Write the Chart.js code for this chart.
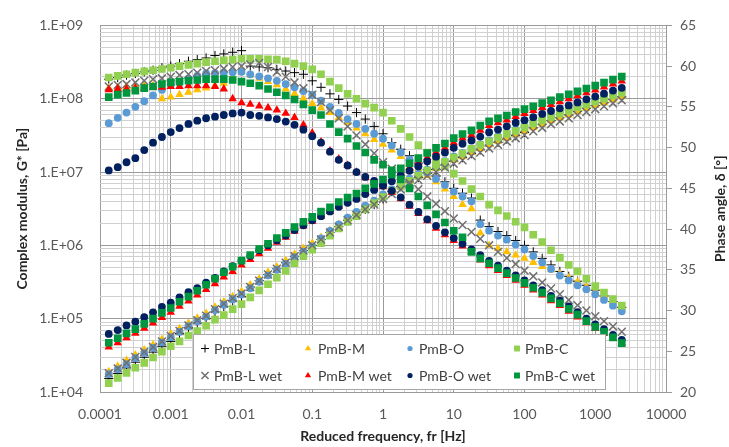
<!DOCTYPE html>
<html>
<head>
<meta charset="utf-8">
<script src="https://cdn.jsdelivr.net/npm/chart.js@4.4.1/dist/chart.umd.min.js"></script>
<style>
html,body{margin:0;padding:0;background:#ffffff;}
canvas{display:block;}
</style>
</head>
<body>
<canvas id="chart" width="729" height="447"></canvas>
<script>
// ---------------- DATA ----------------
const frequency = [1.33e-4,1.78e-4,2.37e-4,3.16e-4,4.22e-4,5.62e-4,7.5e-4,1e-3,
  1.33e-3,1.78e-3,2.37e-3,3.16e-3,4.22e-3,5.62e-3,7.5e-3,0.01,
  0.0133,0.0178,0.0237,0.0316,0.0422,0.0562,0.075,0.1,
  0.133,0.178,0.237,0.316,0.422,0.562,0.75,1,
  1.33,1.78,2.37,3.16,4.22,5.62,7.5,10,
  13.3,17.8,23.7,31.6,42.2,56.2,75,100,
  133,178,237,316,422,562,750,1000,
  1330,1780,2370];

const seriesNames = ['PmB-L','PmB-M','PmB-O','PmB-C','PmB-L wet','PmB-M wet','PmB-O wet','PmB-C wet'];

// Complex modulus G* [Pa]
const modulusL = [1.53e4,1.79e4,2.13e4,2.55e4,2.98e4,3.5e4,4.2e4,4.9e4,6.3e4,7.5e4,8.7e4,1.01e5,1.24e5,1.47e5,1.75e5,2.0e5,
  2.7e5,3.3e5,4.0e5,4.8e5,5.8e5,7.1e5,8.5e5,1.0e6,1.2e6,1.5e6,1.8e6,2.2e6,2.6e6,3.1e6,3.6e6,4.3e6,
  5.4e6,6.3e6,7.3e6,8.4e6,9.6e6,1.08e7,1.24e7,1.4e7,1.57e7,1.78e7,2.0e7,2.27e7,2.54e7,2.8e7,3.13e7,3.46e7,
  4.0e7,4.5e7,5.0e7,5.5e7,6.0e7,6.7e7,7.4e7,8.1e7,8.8e7,9.7e7,1.06e8];
const modulusM = [1.9e4,2.25e4,2.7e4,3.2e4,3.75e4,4.4e4,5.2e4,6.2e4,7.3e4,8.7e4,1.02e5,1.18e5,1.44e5,1.7e5,2.0e5,2.35e5,
  2.9e5,3.5e5,4.3e5,5.1e5,6.2e5,7.6e5,9.1e5,1.07e6,1.28e6,1.6e6,1.93e6,2.35e6,2.8e6,3.3e6,3.85e6,4.6e6,
  5.6e6,6.5e6,7.6e6,8.7e6,1.0e7,1.12e7,1.29e7,1.46e7,1.62e7,1.85e7,2.07e7,2.35e7,2.63e7,2.9e7,3.25e7,3.6e7,
  4.0e7,4.5e7,5.0e7,5.5e7,6.0e7,6.7e7,7.4e7,8.1e7,8.8e7,9.7e7,1.06e8];
const modulusO = [1.75e4,2.04e4,2.4e4,2.9e4,3.4e4,4.0e4,4.75e4,5.6e4,6.6e4,7.9e4,9.2e4,1.07e5,1.31e5,1.55e5,1.84e5,2.13e5,
  2.6e5,3.2e5,3.9e5,4.65e5,5.6e5,6.9e5,8.2e5,9.7e5,1.24e6,1.58e6,1.93e6,2.38e6,2.86e6,3.47e6,4.07e6,4.95e6,
  5.85e6,6.84e6,8.1e6,9.4e6,1.08e7,1.22e7,1.41e7,1.63e7,1.83e7,2.1e7,2.39e7,2.73e7,3.08e7,3.43e7,3.83e7,4.22e7,
  4.75e7,5.28e7,5.94e7,6.47e7,7.13e7,7.92e7,8.71e7,9.5e7,1.04e8,1.15e8,1.25e8];
const modulusC = [1.32e4,1.55e4,1.82e4,2.14e4,2.5e4,2.95e4,3.55e4,4.2e4,4.9e4,5.9e4,6.8e4,8.0e4,9.7e4,1.12e5,1.35e5,1.58e5,
  1.95e5,2.43e5,2.95e5,3.63e5,4.47e5,5.7e5,7.1e5,8.7e5,1.07e6,1.36e6,1.7e6,2.09e6,2.5e6,3.1e6,3.76e6,4.57e6,
  5.5e6,6.4e6,7.6e6,8.9e6,1.05e7,1.19e7,1.38e7,1.58e7,1.78e7,2.07e7,2.34e7,2.63e7,2.95e7,3.31e7,3.63e7,4.07e7,
  4.57e7,5.0e7,5.6e7,6.2e7,6.8e7,7.6e7,8.3e7,9.1e7,1.0e8,1.1e8,1.2e8];
const modulusLwet = [1.8e4,2.1e4,2.5e4,3.0e4,3.5e4,4.1e4,4.9e4,5.8e4,6.8e4,8.1e4,9.5e4,1.1e5,1.35e5,1.6e5,1.9e5,2.2e5,
  2.7e5,3.3e5,4.0e5,4.8e5,5.8e5,7.1e5,8.5e5,1.0e6,1.2e6,1.5e6,1.8e6,2.2e6,2.6e6,3.1e6,3.6e6,4.3e6,
  5.0e6,5.8e6,6.8e6,7.8e6,8.9e6,1.0e7,1.15e7,1.3e7,1.45e7,1.65e7,1.85e7,2.1e7,2.35e7,2.6e7,2.9e7,3.2e7,
  3.6e7,4.0e7,4.5e7,4.9e7,5.4e7,6.0e7,6.6e7,7.2e7,7.9e7,8.7e7,9.5e7];
const modulusMwet = [4.1e4,4.7e4,5.5e4,6.3e4,7.4e4,8.7e4,1.04e5,1.22e5,1.48e5,1.74e5,2.1e5,2.5e5,3.0e5,3.7e5,4.4e5,5.4e5,
  6.4e5,7.7e5,9.1e5,1.1e6,1.29e6,1.55e6,1.83e6,2.13e6,2.5e6,2.9e6,3.4e6,3.9e6,4.4e6,5.2e6,6.0e6,6.9e6,
  8.1e6,9.7e6,1.15e7,1.35e7,1.58e7,1.86e7,2.13e7,2.5e7,2.9e7,3.2e7,3.7e7,4.3e7,4.7e7,5.1e7,5.7e7,6.3e7,
  6.9e7,7.6e7,8.3e7,9.1e7,1.0e8,1.1e8,1.2e8,1.31e8,1.44e8,1.58e8,1.74e8];
const modulusOwet = [6.2e4,7.0e4,8.1e4,9.1e4,1.05e5,1.22e5,1.45e5,1.66e5,1.95e5,2.3e5,2.6e5,3.1e5,3.6e5,4.4e5,5.2e5,6.2e5,
  7.2e5,8.6e5,1.0e6,1.17e6,1.36e6,1.62e6,1.88e6,2.2e6,2.5e6,2.9e6,3.35e6,3.8e6,4.3e6,5.0e6,5.7e6,6.5e6,
  7.5e6,8.9e6,1.04e7,1.2e7,1.4e7,1.62e7,1.84e7,2.14e7,2.43e7,2.7e7,3.05e7,3.5e7,3.8e7,4.2e7,4.7e7,5.1e7,
  5.6e7,6.2e7,6.8e7,7.4e7,8.1e7,8.9e7,9.8e7,1.07e8,1.17e8,1.29e8,1.41e8];
const modulusCwet = [4.7e4,5.4e4,6.3e4,7.2e4,8.5e4,1.0e5,1.2e5,1.4e5,1.7e5,2.0e5,2.4e5,2.9e5,3.5e5,4.3e5,5.1e5,6.2e5,
  7.4e5,8.9e5,1.05e6,1.26e6,1.48e6,1.78e6,2.1e6,2.45e6,2.9e6,3.3e6,3.9e6,4.5e6,5.1e6,6.0e6,6.9e6,7.9e6,
  9.3e6,1.12e7,1.32e7,1.55e7,1.82e7,2.14e7,2.45e7,2.9e7,3.3e7,3.7e7,4.3e7,4.9e7,5.4e7,5.9e7,6.6e7,7.2e7,
  7.9e7,8.7e7,9.5e7,1.05e8,1.15e8,1.26e8,1.38e8,1.51e8,1.66e8,1.82e8,2.0e8];

// Phase angle δ [°]
const phaseL = [58.4,58.6,58.9,59.1,59.3,59.5,59.8,60.0,60.3,60.6,60.8,61.0,61.3,61.5,61.7,61.9,
  60.0,59.9,59.8,59.6,59.4,59.2,59.0,58.2,57.4,56.6,55.9,55.1,54.3,53.5,52.6,51.7,
  50.6,49.8,49.0,48.1,47.3,46.5,45.8,45.0,44.4,43.8,41.1,40.3,39.7,39.2,38.6,38.0,
  37.2,36.4,35.6,34.8,34.2,33.6,33.1,32.5,31.8,31.1,30.4];
const phaseM = [57.3,57.4,57.5,57.5,57.6,57.6,56.0,56.2,56.5,56.8,57.1,57.3,57.6,57.9,58.6,59.3,
  58.9,58.5,58.1,57.7,57.2,56.6,56.0,55.4,54.9,54.3,53.7,53.1,52.4,51.7,51.0,50.4,
  49.7,48.9,48.0,47.4,46.6,45.8,44.9,44.0,43.0,42.5,39.5,38.0,37.6,37.2,36.8,36.4,
  35.9,35.4,35.0,34.5,34.0,33.5,32.9,32.4,31.8,31.1,30.4];
const phaseO = [53.0,53.65,54.3,55.0,55.7,56.4,57.1,57.8,58.1,58.45,58.8,59.1,59.15,59.2,59.25,59.3,
  59.0,58.75,58.5,58.2,57.8,57.4,56.95,56.5,55.75,55.0,54.25,53.5,52.9,52.3,51.7,51.1,
  50.25,49.4,48.55,47.7,46.9,46.15,45.4,44.6,44.0,43.4,40.6,39.8,39.2,38.7,38.1,37.5,
  36.7,35.9,35.1,34.3,33.7,33.1,32.6,32.0,31.3,30.6,29.9];
const phaseC = [58.6,58.8,59.0,59.2,59.35,59.5,59.65,59.8,60.0,60.15,60.3,60.5,60.6,60.7,60.8,60.9,
  60.9,60.9,60.85,60.8,60.6,60.3,60.0,59.6,59.0,58.1,57.3,56.6,56.0,55.4,54.9,54.3,
  53.3,52.3,51.3,50.3,49.4,48.5,47.7,46.8,45.9,44.9,44.0,43.0,42.3,41.6,40.9,40.2,
  39.3,38.4,37.4,36.5,35.6,34.8,33.9,33.0,32.2,31.4,30.6];
const phaseLwet = [57.5,57.7,57.8,58.0,58.2,58.4,58.5,58.7,58.9,59.0,59.2,59.4,59.5,59.7,59.9,60.0,
  60.2,60.4,59.9,59.3,58.7,58.0,57.3,56.5,55.6,54.6,53.6,52.6,51.5,50.4,49.3,48.2,
  47.4,46.55,45.7,44.9,44.0,43.1,42.2,41.3,40.5,39.65,38.8,38.0,37.2,36.45,35.7,34.9,
  34.2,33.45,32.7,32.0,31.3,30.65,30.0,29.3,28.7,28.05,27.4];
const phaseMwet = [57.1,57.2,57.2,57.3,57.3,57.4,57.4,57.5,57.5,57.6,57.6,57.6,57.5,57.2,56.0,55.5,
  55.3,55.1,54.9,54.6,54.2,53.7,52.8,51.8,50.7,49.6,48.6,47.8,47.0,46.3,45.7,45.2,
  44.5,43.7,42.8,41.9,41.0,40.1,39.3,38.6,37.9,37.2,36.2,35.5,34.9,34.3,33.7,33.1,
  32.5,31.9,31.2,30.6,29.9,29.2,28.5,27.8,27.2,26.6,26.0];
const phaseOwet = [47.2,47.6,48.2,48.7,49.7,50.6,51.3,51.9,52.4,52.9,53.3,53.6,53.8,54.0,54.2,54.3,
  54.0,53.9,53.7,53.5,53.2,52.8,52.2,51.4,50.6,49.5,48.5,47.8,47.0,46.4,45.9,45.4,
  44.7,43.9,43.0,42.1,41.2,40.4,39.6,38.9,38.2,37.5,36.8,36.1,35.5,34.9,34.3,33.7,
  33.1,32.5,31.8,31.2,30.5,29.8,29.0,28.3,27.7,27.0,26.4];
const phaseCwet = [56.2,56.5,56.7,57.0,57.3,57.5,57.8,58.0,58.1,58.2,58.3,58.4,58.4,58.4,58.3,58.1,
  57.9,57.6,57.2,56.8,56.4,55.9,55.3,54.6,54.0,52.9,51.9,51.1,50.2,49.4,48.5,47.9,
  47.2,46.1,45.0,44.0,42.9,41.8,40.8,39.8,39.0,37.2,36.4,35.8,35.2,34.6,34.0,33.4,
  32.8,32.2,31.5,30.9,30.2,29.5,28.7,28.0,27.4,26.7,26.0];

// Axis ticks
const xTickDecades = [0.0001,0.001,0.01,0.1,1,10,100,1000,10000];
const yTickDecades = [1e4,1e5,1e6,1e7,1e8,1e9];
const minorMultipliers = [2,3,4,5,6,7,8,9];
const phaseTicks = [20,25,30,35,40,45,50,55,60,65];

// ---------------- STYLE ----------------
const seriesStyles = [
  {color:'#000000', pointStyle:'cross',    radius:4.6, borderWidth:1,   legendRadius:4},
  {color:'#FFC000', pointStyle:'triangle', radius:4.9, borderWidth:0,   legendRadius:3.6},
  {color:'#5B9BD5', pointStyle:'circle',   radius:3.9, borderWidth:0,   legendRadius:2.6},
  {color:'#92D050', pointStyle:'rect',     radius:5.4, borderWidth:0,   legendRadius:4.2},
  {color:'#707070', pointStyle:'crossRot', radius:5.6, borderWidth:1.5, legendRadius:5},
  {color:'#FF0000', pointStyle:'triangle', radius:4.9, borderWidth:0,   legendRadius:3.6},
  {color:'#002060', pointStyle:'circle',   radius:3.9, borderWidth:0,   legendRadius:2.6},
  {color:'#00963F', pointStyle:'rect',     radius:5.4, borderWidth:0,   legendRadius:4.2}
];
const FONT = 'Lato';
const tickColor = '#595959';
const titleColor = '#262626';
const majorGrid = '#9a9a9a';
const minorGrid = '#d0d0d0';

const modulusSeries = [modulusL,modulusM,modulusO,modulusC,modulusLwet,modulusMwet,modulusOwet,modulusCwet];
const phaseSeries = [phaseL,phaseM,phaseO,phaseC,phaseLwet,phaseMwet,phaseOwet,phaseCwet];
[...modulusSeries, ...phaseSeries].forEach((a, k) => {
  if (a.length !== frequency.length) throw new Error('Array ' + k + ' length ' + a.length + ' != ' + frequency.length);
});

function isDecade(v) {
  const l = Math.log10(v);
  return Math.abs(l - Math.round(l)) < 1e-6;
}
function logTicks(decades) {
  const out = [];
  decades.forEach((d, i) => {
    out.push({value: d, major: true});
    if (i < decades.length - 1) minorMultipliers.forEach(m => out.push({value: m * d, major: false}));
  });
  return out;
}

const datasets = [];
seriesNames.forEach((name, i) => {
  const st = seriesStyles[i];
  const common = {
    showLine: false,
    pointStyle: st.pointStyle,
    pointRadius: st.radius,
    pointHoverRadius: st.radius,
    pointBackgroundColor: st.color,
    pointBorderColor: st.color,
    pointBorderWidth: st.borderWidth,
    backgroundColor: st.color,
    borderColor: st.color
  };
  datasets.push(Object.assign({
    label: name + ' (G*)',
    yAxisID: 'y',
    order: -(2 * i),
    data: frequency.map((f, k) => ({x: f, y: modulusSeries[i][k]}))
  }, common));
  datasets.push(Object.assign({
    label: name + ' (δ)',
    yAxisID: 'y1',
    order: -(2 * i + 1),
    data: frequency.map((f, k) => ({x: f, y: phaseSeries[i][k]}))
  }, common));
});

// Legend drawn inside the plot area
const legendLayout = {
  box: {x: 193, y: 334, w: 412, h: 55},
  markerX: [205, 308, 410, 517],
  textX: [214, 318, 419, 525],
  rowY: [348.5, 375.5]
};
const innerLegend = {
  id: 'innerLegend',
  afterDatasetsDraw(chart) {
    const ctx = chart.ctx;
    const L = legendLayout;
    ctx.save();
    ctx.fillStyle = '#ffffff';
    ctx.fillRect(L.box.x, L.box.y, L.box.w, L.box.h);
    ctx.strokeStyle = '#a6a6a6';
    ctx.lineWidth = 1;
    ctx.strokeRect(L.box.x + 0.5, L.box.y + 0.5, L.box.w, L.box.h);
    ctx.font = '14px ' + FONT;
    ctx.textBaseline = 'middle';
    ctx.textAlign = 'left';
    seriesNames.forEach((name, i) => {
      const st = seriesStyles[i];
      const row = i < 4 ? 0 : 1, col = i % 4;
      const mx = L.markerX[col], my = L.rowY[row];
      ctx.fillStyle = st.color;
      ctx.strokeStyle = st.color;
      ctx.lineWidth = st.borderWidth > 0 ? st.borderWidth : 1;
      Chart.helpers.drawPoint(ctx, {pointStyle: st.pointStyle, radius: st.legendRadius, rotation: 0, borderWidth: st.borderWidth}, mx, my);
      ctx.fillStyle = '#404040';
      ctx.fillText(name, L.textX[col], my + 0.5);
    });
    ctx.restore();
  }
};
const rightTitle = {
  id: 'rightTitle',
  afterDraw(chart) {
    const ctx = chart.ctx;
    const area = chart.chartArea;
    ctx.save();
    ctx.translate(720, (area.top + area.bottom) / 2);
    ctx.rotate(-Math.PI / 2);
    ctx.font = 'bold 14px ' + FONT;
    ctx.fillStyle = titleColor;
    ctx.textAlign = 'center';
    ctx.textBaseline = 'middle';
    ctx.fillText('Phase angle, δ [°]', 0, 0);
    ctx.restore();
  }
};

const gridColor = (ctx) => (ctx.tick && isDecade(ctx.tick.value)) ? majorGrid : minorGrid;

new Chart(document.getElementById('chart'), {
  type: 'scatter',
  data: {datasets},
  plugins: [innerLegend, rightTitle],
  options: {
    responsive: false,
    animation: false,
    events: [],
    layout: {padding: {top: 17, left: 0, right: 0, bottom: 0}},
    plugins: {legend: {display: false}, tooltip: {enabled: false}, title: {display: false}},
    scales: {
      x: {
        type: 'logarithmic',
        position: 'bottom',
        min: 1e-4, max: 1e4,
        afterBuildTicks: (s) => { s.ticks = logTicks(xTickDecades); },
        afterFit: (s) => { s.height = 55; },
        grid: {color: gridColor, lineWidth: 1, drawTicks: false},
        border: {display: false},
        ticks: {
          autoSkip: false, maxRotation: 0, minRotation: 0, padding: 14,
          color: tickColor, font: {family: FONT, size: 14},
          callback: (v) => isDecade(v) ? String(Number(Number(v).toPrecision(1))) : ''
        },
        title: {display: true, text: 'Reduced frequency, fr [Hz]', color: titleColor,
          font: {family: FONT, size: 14, weight: 'bold'}, padding: {top: 0, bottom: 2}}
      },
      y: {
        type: 'logarithmic',
        position: 'left',
        min: 1e4, max: 1e9,
        afterBuildTicks: (s) => { s.ticks = logTicks(yTickDecades); },
        afterFit: (s) => { s.width = 100; },
        grid: {color: gridColor, lineWidth: 1, drawTicks: false},
        border: {display: false},
        ticks: {
          autoSkip: false, padding: 17, color: tickColor, font: {family: FONT, size: 14},
          callback: (v) => {
            if (!isDecade(v)) return '';
            const e = Math.round(Math.log10(v));
            return '1.E+' + (e < 10 ? '0' : '') + e;
          }
        },
        title: {display: true, text: 'Complex modulus, G* [Pa]', color: titleColor,
          font: {family: FONT, size: 14, weight: 'bold'}, padding: {top: 14, bottom: 0}}
      },
      y1: {
        type: 'linear',
        position: 'right',
        min: 20, max: 65,
        afterBuildTicks: (s) => { s.ticks = phaseTicks.map(v => ({value: v})); },
        afterFit: (s) => { s.width = 63; },
        grid: {drawOnChartArea: false, drawTicks: true, tickLength: 6, tickColor: '#9a9a9a', lineWidth: 1},
        border: {display: true, color: '#9a9a9a'},
        ticks: {autoSkip: false, padding: 8, color: tickColor, font: {family: FONT, size: 14}},
        title: {display: false}
      }
    }
  }
});
</script>
</body>
</html>
